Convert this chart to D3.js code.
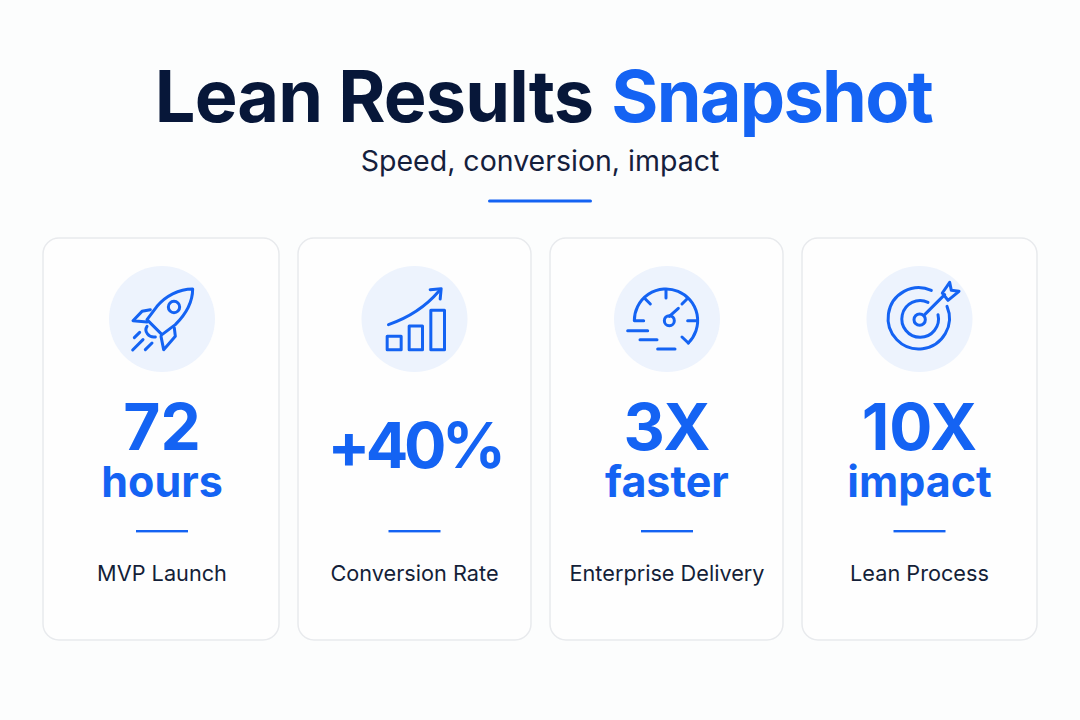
<!DOCTYPE html>
<html>
<head>
<meta charset="utf-8">
<script src="https://cdn.jsdelivr.net/npm/d3@7"></script>
<style>
  html, body { margin: 0; padding: 0; background: #fcfdfd; }
  svg { display: block; }
  text { font-family: Inter, "Noto Sans", sans-serif; text-anchor: middle; }
</style>
</head>
<body>
<div id="vis"></div>
<script>
var labels = ["MVP Launch", "Conversion Rate", "Enterprise Delivery", "Lean Process"],
    values = ["72", "+40%", "3X", "10X"],
    units = ["hours", "", "faster", "impact"],
    icons = ["rocket", "chart", "gauge", "target"];

var width = 1080,
    height = 720,
    blue = "#1463f3",
    navy = "#071739",
    cardLeft = [43, 298, 550, 802],
    cardWidth = [236, 233, 233, 235],
    iconNudge = [0, 0, -1, -1.5];

// icon outlines, drawn in 3x units around the middle of the disc
var iconPaths = {
  rocket: [
    "M92 -90C50 -90 10 -68 -15 -38L-45 2L0 47L40 17C70 -13 92 -48 92 -90Z",
    "M-35 -28L-60 -23L-87 5L-45 9",
    "M37 27L40 52L5 92L-3 52",
    "M-45 22C-55 37 -40 57 -20 54",
    "M-67 40L-83 56M-57 62L-88 93M-30 72L-50 92"
  ],
  chart: [
    "M-78 17C-20 -3 30 -33 73 -83",
    "M47 -88L80 -91L77 -60",
    "M-82 52H-40V92H-82ZM-16 21H24V92H-16ZM49 -26H90V92H49Z"
  ],
  gauge: [
    "M-67 5H-95A95 95 0 1 1 67 72",
    "M48 54L67 72",
    "M0 -86V-63M-62 -60L-47 -45M63 -60L48 -45M65 5H95",
    "M10 -8L37 -32",
    "M-115 35H-55M-78 62H-27M-25 90H27"
  ],
  target: [
    "M40 -86A92 92 0 1 0 87 -38",
    "M30 -50A55 55 0 1 0 60 -13",
    "M20 -13L80 -73",
    "M73 -78L95 -110L100 -86L123 -83L90 -56Z"
  ]
};
var iconCircles = { rocket: [36, -36, 17], gauge: [10, 5, 15], target: [5, 2, 17] };

var x = d3.scalePoint().domain(labels).range([162, 919.5]);

var svg = d3.select("#vis").append("svg")
    .attr("width", width)
    .attr("height", height);

var title = svg.append("text")
    .attr("x", 543.5)
    .attr("y", 122)
    .attr("font-size", 72)
    .attr("font-weight", 700)
    .attr("fill", navy);
title.append("tspan").attr("letter-spacing", -0.9).text("Lean Results ");
title.append("tspan").attr("letter-spacing", -1.75).attr("dx", 2).attr("fill", blue).text("Snapshot");

svg.append("text")
    .attr("x", 540)
    .attr("y", 171)
    .attr("font-size", 28.5)
    .attr("fill", "#14203c")
    .text("Speed, conversion, impact");

svg.append("rect")
    .attr("x", 488)
    .attr("y", 199.5)
    .attr("width", 104)
    .attr("height", 3)
    .attr("rx", 1.5)
    .attr("fill", blue);

var card = svg.selectAll("g.card")
    .data(labels)
  .enter().append("g")
    .attr("class", "card")
    .attr("transform", function(d) { return "translate(" + x(d) + ",0)"; });

card.append("rect")
    .attr("x", function(d, i) { return cardLeft[i] - x(d); })
    .attr("y", 238)
    .attr("width", function(d, i) { return cardWidth[i]; })
    .attr("height", 402)
    .attr("rx", 16)
    .attr("fill", "#fefefe")
    .attr("stroke", "#e8eaed")
    .attr("stroke-width", 1.5);

card.append("circle")
    .attr("cy", 319)
    .attr("r", 53)
    .attr("fill", "#edf3fd");

var icon = card.append("g")
    .attr("transform", function(d, i) { return "translate(" + iconNudge[i] + ",319) scale(0.3333)"; })
    .attr("fill", "none")
    .attr("stroke", blue)
    .attr("stroke-width", 9)
    .attr("stroke-linecap", "round")
    .attr("stroke-linejoin", "round");

icon.selectAll("path")
    .data(function(d, i) { return iconPaths[icons[i]]; })
  .enter().append("path")
    .attr("d", function(d) { return d; });

icon.each(function(d, i) {
  var c = iconCircles[icons[i]];
  if (c) d3.select(this).append("circle").attr("cx", c[0]).attr("cy", c[1]).attr("r", c[2]);
});

card.append("text")
    .attr("y", function(d, i) { return units[i] ? 450 : 468; })
    .attr("font-size", function(d, i) { return units[i] ? 64 : 63; })
    .attr("letter-spacing", function(d, i) { return units[i] ? 0 : -4.5; })
    .attr("font-weight", 700)
    .attr("fill", blue)
    .text(function(d, i) { return values[i]; });

card.append("text")
    .attr("y", 497)
    .attr("font-size", 43)
    .attr("font-weight", 700)
    .attr("fill", blue)
    .text(function(d, i) { return units[i]; });

card.append("rect")
    .attr("x", -26)
    .attr("y", 530)
    .attr("width", 52)
    .attr("height", 2.4)
    .attr("fill", blue);

card.append("text")
    .attr("y", 581)
    .attr("font-size", 21.7)
    .attr("fill", "#141f38")
    .text(function(d) { return d; });
</script>
</body>
</html>
